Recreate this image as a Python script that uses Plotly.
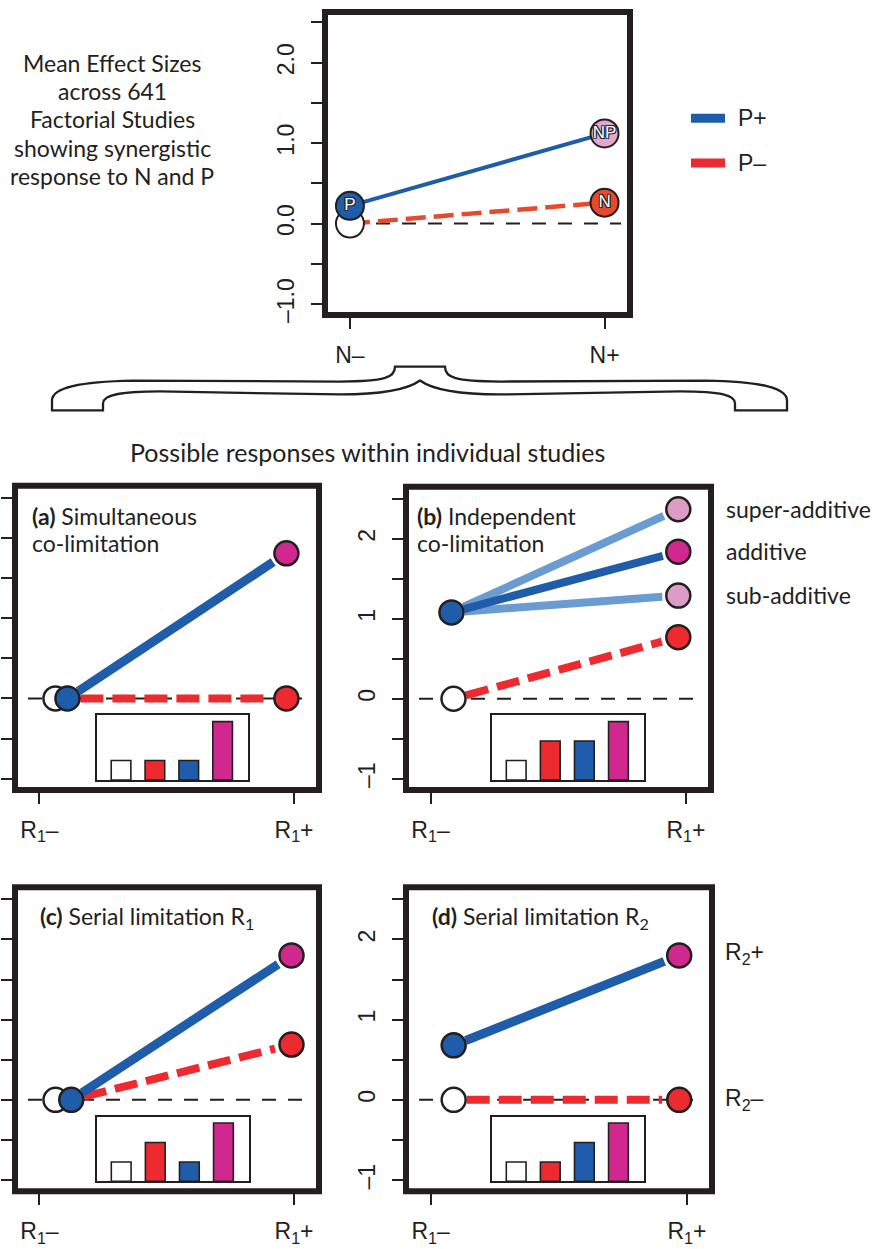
import math
import plotly.graph_objects as go

W, H = 877, 1249
def fx(x): return x / W
def fy(y): return 1 - y / H

DARK = "#231f20"
BLUE = "#1f5ca9"
LIGHTBLUE = "#6a9bd1"
RED = "#ec2a2f"
TOP_RED = "#e8482c"
MAGENTA = "#d0288f"
PINK = "#dd9cc6"
TOP_PINK = "#e6a6cc"
TXT = "Lato"
AX = "Liberation Sans"

# ---------------- data ----------------
top_cat_pos = [0, 1]
top_categories = ["N–", "N+"]
top_p_plus = [0.22, 1.12]          # P+ : P alone, N and P
top_p_minus = [0.0, 0.26]          # P– : control, N alone
top_p_plus_labels = ["P", "NP"]
top_p_minus_labels = ["", "N"]
top_ytick_vals = [-1, -0.5, 0, 0.5, 1, 1.5, 2, 2.5]
top_ytick_text = ["–1.0", "", "0.0", "", "1.0", "", "2.0", ""]

low_xtick_vals = [0, 1]
low_xtick_text = ["R<sub>1</sub>–", "R<sub>1</sub>+"]
low_ytick_vals = [-1, -0.5, 0, 0.5, 1, 1.5, 2, 2.5]
low_ytick_text = ["–1", "", "0", "", "1", "", "2", ""]

bar_pos = [1, 2, 3, 4]
bar_colors = ["white", RED, BLUE, MAGENTA]

# x positions: control point, R2+ point at R1–, points at R1+
a_xpos = [0.063, 0.11, 0.97]
a_p_minus = [0.0, 0.0]
a_p_plus_start = 0.0
a_p_plus_ends = [1.81]
a_bars = [1, 1, 1, 3]

b_xpos = [0.09, 0.082, 0.97]
b_p_minus = [0.0, 0.77]
b_p_plus_start = 1.08
b_p_plus_ends = [2.37, 1.29, 1.84]        # super-additive, sub-additive, additive
b_bars = [1, 2, 2, 3]

c_xpos = [0.063, 0.125, 0.99]
c_p_minus = [0.0, 0.69]
c_p_plus_start = 0.0
c_p_plus_ends = [1.80]
c_bars = [1, 2, 1, 3]

d_xpos = [0.09, 0.09, 0.97]
d_p_minus = [0.0, 0.0]
d_p_plus_start = 0.68
d_p_plus_ends = [1.80]
d_bars = [1, 1, 2, 3]

text_block = ["Mean Effect Sizes", "across 641", "Factorial Studies",
              "showing synergistic", "response to N and P"]
b_side_labels = ["super-additive", "additive", "sub-additive"]
d_side_labels = ["R<sub>2</sub>+", "R<sub>2</sub>–"]

# ---------------- layout geometry (px) ----------------
TOP_BOX = (325, 630, 12, 317)
PANEL_BOX = {2: (15, 319, 489, 795), 3: (406, 711, 490, 795),
             4: (15, 319, 893, 1199), 5: (406, 712, 893, 1199)}
INSET_BOX = {6: (97, 248, 720, 785), 7: (492, 644, 720, 785),
             8: (97, 249, 1124, 1189), 9: (492, 644, 1124, 1189)}
LOW_XR = [-0.096, 1.098]
LOW_YR = [-1.14, 2.65]
SX, SY = 255.0, 80.6

fig = go.Figure()
layout = dict(width=W, height=H, autosize=False,
              margin=dict(l=0, r=0, t=0, b=0, pad=0),
              paper_bgcolor="white", plot_bgcolor="white",
              showlegend=False)
shapes = []
annotations = []

def axname(n, k):
    return f"{k}axis" if n == 1 else f"{k}axis{n}"
def ref(n, k):
    return k if n == 1 else f"{k}{n}"

def main_axes(n, box, xr, yr, xtv, xtt, ytv, ytt, show_ylab):
    x0, x1, y0, y1 = box
    layout[axname(n, "x")] = dict(
        domain=[fx(x0), fx(x1)], range=xr, anchor=ref(n, "y"),
        tickmode="array", tickvals=xtv, ticktext=xtt, ticks="outside",
        ticklen=13, tickwidth=2.2, tickcolor=DARK, showgrid=False,
        zeroline=False, showline=False, fixedrange=True,
        tickfont=dict(family=AX, size=23, color=DARK), ticklabelstandoff=6)
    layout[axname(n, "y")] = dict(
        domain=[fy(y1), fy(y0)], range=yr, anchor=ref(n, "x"),
        tickmode="array", tickvals=ytv, ticktext=ytt, ticks="outside",
        ticklen=13, tickwidth=2.2, tickcolor=DARK, showgrid=False,
        zeroline=False, showline=False, fixedrange=True, tickangle=-90,
        showticklabels=show_ylab,
        tickfont=dict(family=AX, size=23, color=DARK), ticklabelstandoff=8)
    shapes.append(dict(type="rect", xref=f"{ref(n,'x')} domain", yref=f"{ref(n,'y')} domain",
                       x0=0, x1=1, y0=0, y1=1, line=dict(color=DARK, width=6),
                       layer="above"))

def zero_line(n, xa, xb):
    shapes.append(dict(type="line", xref=ref(n, "x"), yref=ref(n, "y"),
                       x0=xa, x1=xb, y0=0, y1=0, layer="below",
                       line=dict(color=DARK, width=2, dash="14px,12px")))

def trim(x0, y0, x1, y1, r0=13, r1=17):
    dx, dy = (x1 - x0) * SX, (y1 - y0) * SY
    L = math.hypot(dx, dy)
    ux, uy = dx / L, dy / L
    return ([x0 + ux * r0 / SX, x1 - ux * r1 / SX],
            [y0 + uy * r0 / SY, y1 - uy * r1 / SY])

def marker(n, x, y, color, size=24, lw=2.5):
    fig.add_trace(go.Scatter(x=x, y=y, mode="markers", cliponaxis=False,
                             xaxis=ref(n, "x"), yaxis=ref(n, "y"), hoverinfo="skip",
                             marker=dict(size=size, color=color,
                                         line=dict(color=DARK, width=lw))))

# ---------------- top panel ----------------
main_axes(1, TOP_BOX, [-0.098, 1.10], [-1.136, 2.63], top_cat_pos, top_categories,
          top_ytick_vals, top_ytick_text, True)
zero_line(1, 0, 1.065)
fig.add_trace(go.Scatter(x=top_cat_pos, y=top_p_minus, mode="lines", xaxis="x", yaxis="y",
                         line=dict(color=TOP_RED, width=4.5, dash="20px,8px"), hoverinfo="skip"))
fig.add_trace(go.Scatter(x=top_cat_pos, y=top_p_plus, mode="lines", xaxis="x", yaxis="y",
                         line=dict(color=BLUE, width=4), hoverinfo="skip"))
outline = "-1px -1px 0 #222, 1px -1px 0 #222, -1px 1px 0 #222, 1px 1px 0 #222"
marker(1, [top_cat_pos[0]], [top_p_minus[0]], "white", size=28, lw=2)
for xs, ys, labs, cols in [
        (top_cat_pos, top_p_plus, top_p_plus_labels, [BLUE, TOP_PINK]),
        ([top_cat_pos[1]], [top_p_minus[1]], [top_p_minus_labels[1]], [TOP_RED])]:
    fig.add_trace(go.Scatter(x=xs, y=ys, mode="markers+text", text=labs,
                             textposition="middle center", cliponaxis=False,
                             xaxis="x", yaxis="y", hoverinfo="skip",
                             textfont=dict(family=AX, size=17, color="white", shadow=outline),
                             marker=dict(size=28, color=cols, line=dict(color=DARK, width=2))))

# ---------------- lower panels ----------------
def lower_panel(n, inset, xpos, p_minus, p_start, p_ends, end_cols, line_cols, line_w,
                bars, show_ylab):
    main_axes(n, PANEL_BOX[n], LOW_XR, LOW_YR, low_xtick_vals, low_xtick_text,
              low_ytick_vals, low_ytick_text, show_ylab)
    zero_line(n, -0.045, 1.065)
    # red dashed (P-)
    rx0 = max(xpos[0], xpos[1])
    lx, ly = trim(rx0, p_minus[0], xpos[2], p_minus[1], 13, 17)
    fig.add_trace(go.Scatter(x=lx, y=ly, mode="lines", xaxis=ref(n, "x"), yaxis=ref(n, "y"),
                             hoverinfo="skip",
                             line=dict(color=RED, width=8, dash="23px,9px")))
    # blue lines (P+)
    for e, lc, w in zip(p_ends, line_cols, line_w):
        lx, ly = trim(xpos[1], p_start, xpos[2], e, 13, 16)
        fig.add_trace(go.Scatter(x=lx, y=ly, mode="lines", xaxis=ref(n, "x"), yaxis=ref(n, "y"),
                                 hoverinfo="skip", line=dict(color=lc, width=w)))
    marker(n, [xpos[0]], [p_minus[0]], "white")
    marker(n, [xpos[1]], [p_start], BLUE)
    marker(n, [xpos[2]], [p_minus[1]], RED)
    marker(n, [xpos[2]] * len(p_ends), p_ends, end_cols)
    # inset bar chart
    x0, x1, y0, y1 = INSET_BOX[inset]
    common = dict(showgrid=False, zeroline=False, showticklabels=False, ticks="",
                  showline=True, mirror=True, linecolor=DARK, linewidth=1.6,
                  fixedrange=True)
    layout[axname(inset, "x")] = dict(domain=[fx(x0), fx(x1)], range=[0.29, 4.75],
                                      anchor=ref(inset, "y"), **common)
    layout[axname(inset, "y")] = dict(domain=[fy(y1), fy(y0)], range=[0, 3.32],
                                      anchor=ref(inset, "x"), **common)
    fig.add_trace(go.Bar(x=bar_pos, y=bars, width=0.58, xaxis=ref(inset, "x"),
                         yaxis=ref(inset, "y"), hoverinfo="skip",
                         marker=dict(color=bar_colors, line=dict(color=DARK, width=1.6))))

lower_panel(2, 6, a_xpos, a_p_minus, a_p_plus_start, a_p_plus_ends, [MAGENTA], [BLUE], [9],
            a_bars, False)
lower_panel(3, 7, b_xpos, b_p_minus, b_p_plus_start, b_p_plus_ends, [PINK, PINK, MAGENTA],
            [LIGHTBLUE, LIGHTBLUE, BLUE], [8, 8, 8], b_bars, True)
lower_panel(4, 8, c_xpos, c_p_minus, c_p_plus_start, c_p_plus_ends, [MAGENTA], [BLUE], [9],
            c_bars, False)
lower_panel(5, 9, d_xpos, d_p_minus, d_p_plus_start, d_p_plus_ends, [MAGENTA], [BLUE], [9],
            d_bars, True)

# ---------------- text ----------------
def ann(text, x, y, size, family=TXT, xanchor="left"):
    annotations.append(dict(text=text, x=fx(x), y=fy(y), xref="paper", yref="paper",
                            showarrow=False, xanchor=xanchor, yanchor="middle",
                            font=dict(family=family, size=size, color=DARK)))

for i, line in enumerate(text_block):
    ann(line, 112, 63 + 28.5 * i, 23, xanchor="center")
ann("Possible responses within individual studies", 367, 455, 25, xanchor="center")
ann("<b>(a)</b> Simultaneous", 30, 519, 23)
ann("co-limitation", 30, 546, 23)
ann("<b>(b)</b> Independent", 415, 519, 23)
ann("co-limitation", 415, 546, 23)
ann("<b>(c)</b> Serial limitation R<sub>1</sub>", 38, 923, 23)
ann("<b>(d)</b> Serial limitation R<sub>2</sub>", 430, 923, 23)
for lab, yy in zip(b_side_labels, [512, 555, 599]):
    ann(lab, 724, yy, 23)
for lab, yy in zip(d_side_labels, [960, 1107]):
    ann(lab, 723, yy, 23, family=AX)

# legend
for lab, col, yy in [("P+", BLUE, 119), ("P–", RED, 164)]:
    shapes.append(dict(type="line", xref="paper", yref="paper", x0=fx(691), x1=fx(725),
                       y0=fy(yy), y1=fy(yy), line=dict(color=col, width=9)))
    ann(lab, 736, yy, 23, family=AX)

# brace (outline), in px
brace = [("M", [(52, 413)]), ("L", [(103, 413)]), ("L", [(103, 406)]),
         ("C", [(103, 398), (118, 394), (160, 394)]), ("L", [(340, 397)]),
         ("C", [(370, 397), (405, 394), (420, 383)]),
         ("C", [(435, 394), (470, 397), (500, 397)]), ("L", [(680, 394)]),
         ("C", [(722, 394), (735, 398), (735, 406)]), ("L", [(735, 413)]),
         ("L", [(787, 413)]), ("L", [(787, 403)]),
         ("C", [(787, 390), (760, 384), (706, 383)]), ("L", [(500, 384)]),
         ("C", [(455, 384), (445, 380), (445, 369)]), ("L", [(395, 369)]),
         ("C", [(395, 380), (385, 384), (340, 384)]), ("L", [(133, 383)]),
         ("C", [(80, 384), (52, 390), (52, 403)])]
path = " ".join(cmd + " " + " ".join(f"{fx(x):.5f},{fy(y):.5f}" for x, y in pts)
                for cmd, pts in brace) + " Z"
shapes.append(dict(type="path", path=path, xref="paper", yref="paper",
                   line=dict(color=DARK, width=2.3)))

layout["shapes"] = shapes
layout["annotations"] = annotations
fig.update_layout(**layout)
fig.write_html("out.html", config={"displayModeBar": False},
               post_script="document.body.style.margin='0';")
